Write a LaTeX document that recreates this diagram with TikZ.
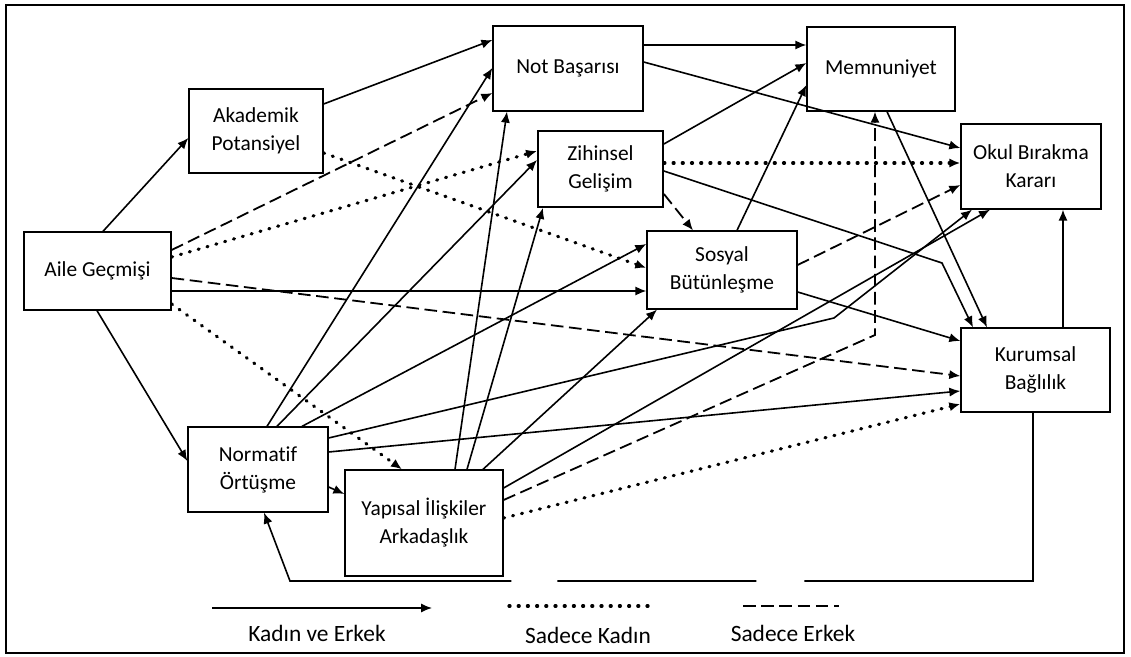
\documentclass[tikz,border=0pt]{standalone}
\usepackage{fontspec}
\setmainfont{Carlito}[Ligatures=NoCommon]
\usetikzlibrary{arrows.meta}

\begin{document}
\begin{tikzpicture}[x=0.5pt,y=-0.5pt,
		every node/.style={font=\fontsize{10.7}{14}\selectfont},
		box/.style={draw,line width=0.65pt,align=center,inner sep=0pt},
		legend/.style={anchor=base,font=\fontsize{11.7}{14}\selectfont},
		kv/.style={-{Latex[length=5.5pt,width=4.6pt]},line width=0.8pt},
		kadin/.style={kv,line width=1.6pt,line cap=round,dash pattern=on 0.5pt off 4.1pt},
		erkek/.style={kv,line width=0.9pt,dash pattern=on 6.3pt off 2.8pt}]
			\useasboundingbox (0,0) rectangle (1131,657);
			\draw[line width=1.4pt] (6,5) rectangle (1124,653);

			\node[box,minimum width=73.5pt,minimum height=39pt] (AG) at (97.5,271) {Aile Geçmişi};
			\node[box,minimum width=67pt,minimum height=42pt] (AP) at (256,131) {Akademik\\Potansiyel};
			\node[box,minimum width=75pt,minimum height=42.5pt] (NB) at (568,68.5) {Not Başarısı};
			\node[box,minimum width=74pt,minimum height=42pt] (MN) at (881,69) {Memnuniyet};
			\node[box,minimum width=62.5pt,minimum height=38pt,line width=0.9pt] (ZG) at (600.5,169) {Zihinsel\\Gelişim};
			\node[box,minimum width=70pt,minimum height=42.5pt] (OB) at (1031,166.5) {Okul Bırakma\\Kararı};
			\node[box,minimum width=75pt,minimum height=39pt] (SB) at (722,270) {Sosyal\\Bütünleşme};
			\node[box,minimum width=74.5pt,minimum height=42pt] (KB) at (1035.5,370) {Kurumsal\\Bağlılık};
			\node[box,minimum width=70pt,minimum height=42.5pt] (NO) at (258,469.5) {Normatif\\Örtüşme};
			\node[box,minimum width=79pt,minimum height=53pt] (YI) at (424,523) {Yapısal İlişkiler\\Arkadaşlık};

			\coordinate (k1) at (942,263);
			\coordinate (k2) at (834,318);
			\coordinate (k3) at (875,335);
			\coordinate (fbR) at (1033,581);
			\coordinate (fbL) at (290,581);

			% kadin ve erkek
			\path[kv] (AG.north -| 103,0) edge (AP.west |- 0,138)
						 (AG.east |- 0,291) edge (SB.west |- 0,291)
						 (AG.south -| 97,0) edge (NO.west |- 0,461)
						 (AP.east |- 0,104) edge (NB.west |- 0,40)
						 (NB.east |- 0,45) edge (MN.west |- 0,45)
						 (NB.east |- 0,62) edge (OB.west |- 0,148)
						 (ZG.east |- 0,144) edge (MN.west |- 0,63)
						 (MN.south -| 887,0) edge (KB.north -| 987,0)
						 (SB.north -| 737,0) edge (MN.west |- 0,85)
						 (SB.east |- 0,292) edge (KB.west |- 0,341)
						 (KB.north -| 1063,0) edge (OB.south -| 1063,0)
						 (NO.north -| 267,0) edge (NB.west |- 0,68)
						 (NO.north -| 277,0) edge (ZG.west |- 0,160)
						 (NO.north -| 302,0) edge (SB.west |- 0,244)
						 (NO.east |- 0,452) edge (KB.west |- 0,391)
						 (NO.east |- 0,487) edge (YI.west |- 0,494)
						 (YI.north -| 455,0) edge (NB.south -| 507,0)
						 (YI.north -| 467,0) edge (ZG.south -| 543,0)
						 (YI.north -| 483,0) edge (SB.south -| 657,0)
						 (YI.east |- 0,488) edge (OB.south -| 990,0);
			\draw[kv] (ZG.east |- 0,171) -- (k1) -- (KB.north -| 973,0);
			\draw[kv] (NO.east |- 0,438) -- (k2) -- (OB.south -| 972,0);
			\draw[kv,dash pattern=on 198.5pt off 24pt on 99.5pt off 23pt on 400pt off 1pt]
				(KB.south -| fbR) -- (fbR) -- (fbL) -- (NO.south -| 264,0);

			% sadece kadin
			\path[kadin] (AG.east |- 0,257) edge (ZG.west |- 0,151)
						 (AG.east |- 0,304) edge (YI.north -| 402,0)
						 (AP.east |- 0,153) edge (SB.west |- 0,268)
						 (ZG.east |- 0,163) edge (OB.west |- 0,163)
						 (YI.east |- 0,518) edge (KB.west |- 0,404);

			% sadece erkek
			\path[erkek] (AG.east |- 0,250) edge (NB.west |- 0,93)
						 (AG.east |- 0,278) edge (KB.west |- 0,376)
						 (ZG.east |- 0,194) edge (SB.north -| 693,0)
						 (SB.east |- 0,265) edge (OB.west |- 0,185);
			\draw[erkek] (YI.east |- 0,500) -- (k3) -- (MN.south -| k3);

			% legend
			\node[legend] (L1) at (317,642) {Kadın ve Erkek};
			\node[legend] (L2) at (588,644) {Sadece Kadın};
			\node[legend] (L3) at (793,642) {Sadece Erkek};
			\coordinate (l1a) at (212,608);
			\coordinate (l1b) at (432,608);
			\coordinate (l2a) at (509,606);
			\coordinate (l2b) at (655,606);
			\coordinate (l3a) at (743,606);
			\coordinate (l3b) at (839,606);
			\draw[kv] (l1a) -- (l1b);
			\draw[kadin,-] (l2a) -- (l2b);
			\draw[erkek,-] (l3a) -- (l3b);
		\end{tikzpicture}
\end{document}
